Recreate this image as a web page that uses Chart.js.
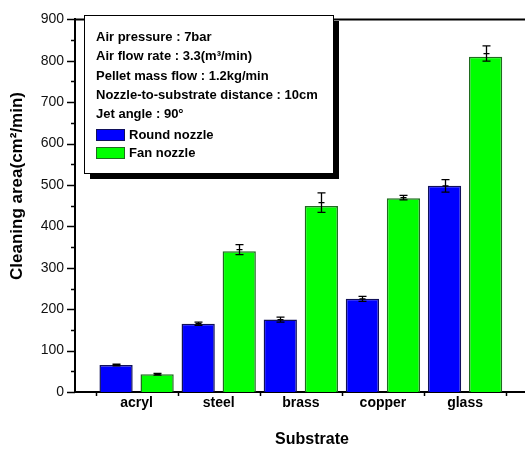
<!DOCTYPE html>
<html>
<head>
<meta charset="utf-8">
<script src="https://cdn.jsdelivr.net/npm/chart.js@4/dist/chart.umd.min.js"></script>
<style>
  html, body { margin: 0; padding: 0; background: #fff; }
  #c { display: block; }
</style>
</head>
<body>
<canvas id="c" width="525" height="451"></canvas>
<script>
// Cleaning area by substrate for two nozzle types
const substrates = ['acryl', 'steel', 'brass', 'copper', 'glass'];
const roundNozzle = [65, 165, 175, 225, 498];
const fanNozzle = [43, 340, 449, 468, 810];
// error bar extents above / below each mean
const roundErrPlus = [2, 4, 6, 6, 15];
const roundErrMinus = [2, 4, 6, 6, 15];
const fanErrPlus = [2, 16, 32, 7, 26];
const fanErrMinus = [2, 8, 15, 4, 11];
const yTicks = [0, 100, 200, 300, 400, 500, 600, 700, 800, 900];
const conditions = [
  'Air pressure : 7bar',
  'Air flow rate : 3.3(m\u00B3/min)',
  'Pellet mass flow : 1.2kg/min',
  'Nozzle-to-substrate distance : 10cm',
  'Jet angle : 90\u00B0'
];
const seriesNames = ['Round nozzle', 'Fan nozzle'];

const FONT = '"Liberation Sans", Arial, Helvetica, sans-serif';
const BLUE = '#0000ff', BLUE_EDGE = '#10105a';
const GREEN = '#00ff00', GREEN_EDGE = '#1f6b1f';

const toPoints = arr => arr.map((v, i) => ({ x: i + 1, y: v }));

const decorations = {
  id: 'decorations',
  afterDatasetsDraw(chart) {
    const ctx = chart.ctx;
    const xs = chart.scales.x, ys = chart.scales.y;
    const area = chart.chartArea;
    ctx.save();
    ctx.strokeStyle = '#000';

    // error bars with caps and a centre mark
    const errSets = [[roundErrPlus, roundErrMinus, roundNozzle], [fanErrPlus, fanErrMinus, fanNozzle]];
    errSets.forEach((set, di) => {
      const meta = chart.getDatasetMeta(di);
      meta.data.forEach((bar, i) => {
        const v = set[2][i];
        const hi = ys.getPixelForValue(v + set[0][i]);
        const lo = ys.getPixelForValue(v - set[1][i]);
        const mid = (hi + lo) / 2;
        const x = Math.round(bar.x) + 0.5;
        ctx.lineWidth = 1.3;
        ctx.beginPath();
        ctx.moveTo(x, hi); ctx.lineTo(x, lo);
        ctx.moveTo(x - 4, hi); ctx.lineTo(x + 4, hi);
        ctx.moveTo(x - 4, lo); ctx.lineTo(x + 4, lo);
        ctx.moveTo(x - 3, mid); ctx.lineTo(x + 3, mid);
        ctx.stroke();
      });
    });

    // top frame line
    ctx.lineWidth = 2;
    ctx.beginPath();
    ctx.moveTo(area.left - 1, area.top);
    ctx.lineTo(chart.width, area.top);
    ctx.stroke();

    // y major / minor ticks pointing outward
    ctx.lineWidth = 1.5;
    for (let v = 0; v <= 900; v += 50) {
      const y = Math.round(ys.getPixelForValue(v)) + 0.5;
      const len = v % 100 === 0 ? 8 : 4;
      ctx.beginPath();
      ctx.moveTo(area.left - len, y);
      ctx.lineTo(area.left, y);
      ctx.stroke();
    }
    // x ticks between categories
    for (let k = 0; k <= substrates.length; k++) {
      const x = Math.round(xs.getPixelForValue(k + 0.5)) + 0.5;
      ctx.beginPath();
      ctx.moveTo(x, area.bottom);
      ctx.lineTo(x, area.bottom + 4);
      ctx.stroke();
    }

    // axis titles
    ctx.fillStyle = '#000';
    ctx.textAlign = 'center';
    ctx.textBaseline = 'middle';
    ctx.font = 'bold 16px ' + FONT;
    ctx.fillText('Substrate', 312, 440);
    ctx.save();
    ctx.translate(17, 186);
    ctx.rotate(-Math.PI / 2);
    ctx.font = 'bold 17px ' + FONT;
    ctx.fillText('Cleaning area(cm\u00B2/min)', 0, 0);
    ctx.restore();

    // legend panel with drop shadow
    const bx = 84, by = 15, bw = 249, bh = 158;
    ctx.fillStyle = '#000';
    ctx.fillRect(bx + 6, by + 6, bw, bh);
    ctx.fillStyle = '#fff';
    ctx.fillRect(bx, by, bw, bh);
    ctx.lineWidth = 1;
    ctx.strokeStyle = '#000';
    ctx.strokeRect(bx + 0.5, by + 0.5, bw, bh);

    ctx.fillStyle = '#000';
    ctx.textAlign = 'left';
    ctx.textBaseline = 'middle';
    ctx.font = 'bold 13px ' + FONT;
    const lineY = [37, 56.5, 76, 95, 114.5];
    conditions.forEach((t, i) => ctx.fillText(t, 96, lineY[i]));

    const sw = [[BLUE, BLUE_EDGE, 135], [GREEN, GREEN_EDGE, 153]];
    sw.forEach((s, i) => {
      ctx.fillStyle = s[0];
      ctx.fillRect(96, s[2] - 5, 28, 10);
      ctx.strokeStyle = s[1];
      ctx.lineWidth = 1;
      ctx.strokeRect(96.5, s[2] - 5.5, 28, 11);
      ctx.fillStyle = '#000';
      ctx.fillText(seriesNames[i], 129, s[2]);
    });
    ctx.restore();
  }
};

new Chart(document.getElementById('c'), {
  type: 'bar',
  data: {
    datasets: [
      {
        label: seriesNames[0],
        data: toPoints(roundNozzle),
        backgroundColor: BLUE,
        borderColor: BLUE_EDGE,
        borderWidth: 1.5,
        categoryPercentage: 1,
        barPercentage: 0.81
      },
      {
        label: seriesNames[1],
        data: toPoints(fanNozzle),
        backgroundColor: GREEN,
        borderColor: GREEN_EDGE,
        borderWidth: 1.5,
        categoryPercentage: 1,
        barPercentage: 0.81
      }
    ]
  },
  options: {
    responsive: false,
    animation: false,
    devicePixelRatio: 1,
    layout: { padding: { top: 13, right: 0, left: 0, bottom: 0 } },
    plugins: { legend: { display: false }, tooltip: { enabled: false } },
    scales: {
      x: {
        type: 'linear',
        offset: false,
        min: 0.25,
        max: 5.73,
        grid: { display: false, offset: false, drawTicks: false },
        border: { display: true, color: '#000', width: 2 },
        afterBuildTicks: s => { s.ticks = substrates.map((_, i) => ({ value: i + 1 })); },
        afterFit: s => { s.height = 59; },
        ticks: {
          autoSkip: false,
          maxRotation: 0,
          padding: 3,
          color: '#000',
          font: { family: FONT, size: 14, weight: 'bold' },
          callback: v => substrates[v - 1]
        }
      },
      y: {
        min: 0,
        max: 900,
        grid: { display: false, drawTicks: false },
        border: { display: true, color: '#000', width: 2 },
        afterBuildTicks: s => { s.ticks = yTicks.map(v => ({ value: v })); },
        afterFit: s => { s.width = 75; },
        ticks: {
          padding: 11,
          color: '#111',
          font: { family: FONT, size: 14 }
        }
      }
    }
  },
  plugins: [decorations]
});
</script>
</body>
</html>
